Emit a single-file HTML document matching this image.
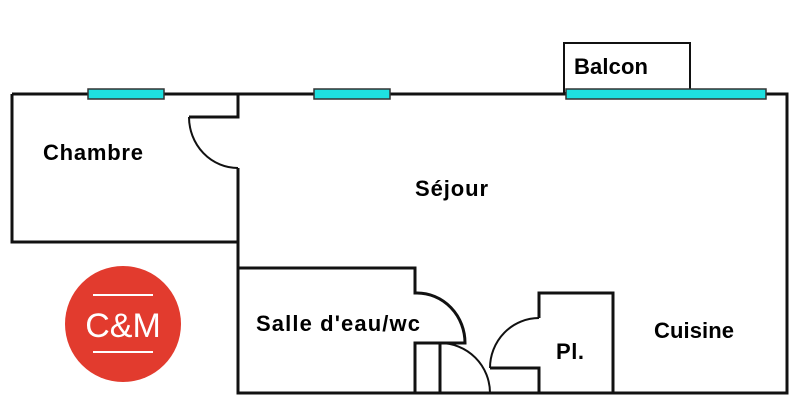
<!DOCTYPE html>
<html><head><style>body{margin:0;background:#fff}svg{display:block}</style></head><body>
<svg width="800" height="408" viewBox="0 0 800 408" xmlns="http://www.w3.org/2000/svg">
<g fill="none" stroke="#111" stroke-width="3">
<rect x="564" y="43" width="126" height="50" stroke-width="2"/>
<path d="M12 94 H787 V393 H238 V168"/>
<path d="M238 94 V117 H189"/>
<path d="M189 117 A49 51 0 0 0 238 168" stroke-width="2"/>
<path d="M12 94 V242 H238"/>
<path d="M238 268 H415 V293 H417"/>
<path d="M417 293 A48 50 0 0 1 465 343 H415 V393 M440 343 V393" />
<path d="M440 343 A50 50 0 0 1 490 393" stroke-width="2"/>
<path d="M539 393 V368 H490 M539 318 V293 H613 V393"/>
<path d="M539 318 A49 50 0 0 0 490 368" stroke-width="2"/>
</g>
<g fill="#1ee0e0" stroke="#333" stroke-width="1.5">
<rect x="88" y="89" width="76" height="10"/>
<rect x="314" y="89" width="76" height="10"/>
<rect x="566" y="89" width="200" height="10"/>
</g>
<g font-family="Liberation Sans, sans-serif" font-weight="bold" font-size="22" fill="#000">
<text x="43" y="160" textLength="100">Chambre</text>
<text x="415" y="196" textLength="73">Séjour</text>
<text x="574" y="74" textLength="74">Balcon</text>
<text x="256" y="331" textLength="164">Salle d'eau/wc</text>
<text x="556" y="359" textLength="28">Pl.</text>
<text x="654" y="338" textLength="80">Cuisine</text>
</g>
<circle cx="123" cy="324" r="58" fill="#e23b2e"/>
<g stroke="#fff" stroke-width="2"><line x1="93" y1="295" x2="153" y2="295"/><line x1="93" y1="352" x2="153" y2="352"/></g>
<text x="123" y="337" text-anchor="middle" font-family="Liberation Sans, sans-serif" font-size="34" fill="#fff">C&amp;M</text>
</svg>
</body></html>
